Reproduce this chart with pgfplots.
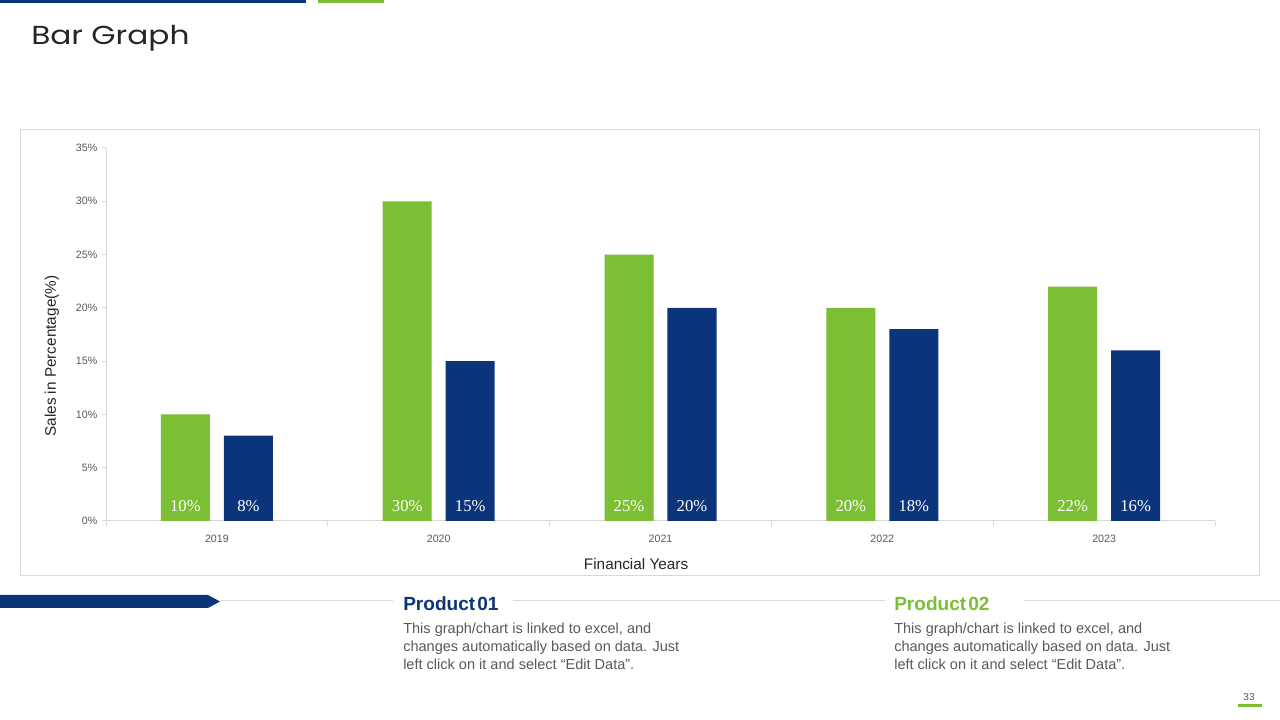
\documentclass[border=0pt]{standalone}
\usepackage{fontspec}
\setmainfont{Liberation Sans}
\newfontfamily\titlefont{Poppins}[FakeStretch=1.2]
\newfontfamily\numfont{Liberation Serif}
\usepackage{pgfplots}
\usepackage{pgfplotstable}
\pgfplotsset{compat=1.18}

\definecolor{navy}{RGB}{11,52,123}
\definecolor{leaf}{RGB}{124,190,52}
\definecolor{rule}{RGB}{217,217,217}
\definecolor{txt}{RGB}{89,89,89}
\definecolor{ink}{RGB}{38,38,38}

% sales share per financial year (p2 = Product 02, p1 = Product 01)
\pgfplotstableread{
x year p2 p1
0 2019 10 8
1 2020 30 15
2 2021 25 20
3 2022 20 18
4 2023 22 16
}\sales

\begin{document}
\begin{tikzpicture}[x=0.75pt,y=0.75pt]
\useasboundingbox (0,0) rectangle (1280,720);
\fill[white] (0,0) rectangle (1280,720);

% header accents and title
\fill[navy] (0,717) rectangle (306,720);
\fill[leaf] (318,717) rectangle (384,720);
\node[anchor=base west, inner sep=0, text=ink,
      font=\titlefont\fontsize{19.5}{22}\selectfont] at (31,675) {Bar Graph};

% chart frame
\draw[rule, line width=0.75pt] (20,144) rectangle (1259,590);

\begin{axis}[
  at={(79.5pt,149.25pt)}, anchor=south west,
  width=831.75pt, height=279.75pt, scale only axis,
  clip=false,
  xmin=-0.5, xmax=4.5, ymin=0, ymax=35,
  axis x line*=bottom, axis y line*=left,
  axis line style={rule, line width=0.75pt, -},
  tick align=outside,
  xtick={0,1,2,3,4},
  xticklabels={2019,2020,2021,2022,2023},
  minor xtick={-0.5,0.5,1.5,2.5,3.5,4.5},
  every major x tick/.append style={draw=none},
  every minor x tick/.append style={rule, line width=0.75pt},
  minor tick length=3.75pt,
  ytick={0,5,...,35},
  every major y tick/.append style={rule, line width=0.75pt},
  major tick length=3pt,
  yticklabel={\pgfmathprintnumber{\tick}\%},
  /pgf/number format/assume math mode=true,
  ticklabel style={font=\fontsize{8}{9.5}\selectfont, text=txt},
  xticklabel style={anchor=base, yshift=-13pt},
  xlabel={Financial Years},
  ylabel={Sales in Percentage(\%)},
  label style={font=\fontsize{11.5}{13}\selectfont, text=ink},
  xlabel style={at={(axis description cs:0.478,-0.115)}, anchor=center},
  ylabel style={at={(axis description cs:-0.0487,0.442)}, anchor=center},
]
\addplot[ybar, bar width=0.221, bar shift=-0.142, fill=leaf, draw=none]
  table[x=x, y=p2] {\sales};
\addplot[ybar, bar width=0.221, bar shift=0.142, fill=navy, draw=none]
  table[x=x, y=p1] {\sales};

% value labels at the foot of each bar
\addplot[draw=none, mark=none, point meta=explicit,
  nodes near coords={\pgfmathprintnumber{\pgfplotspointmeta}\%},
  nodes near coords style={anchor=base, yshift=6.75pt, text=white,
    font=\numfont\fontsize{12.5}{14}\selectfont}]
  table[x expr=\thisrow{x}-0.142, y expr=0, meta=p2] {\sales};
\addplot[draw=none, mark=none, point meta=explicit,
  nodes near coords={\pgfmathprintnumber{\pgfplotspointmeta}\%},
  nodes near coords style={anchor=base, yshift=6.75pt, text=white,
    font=\numfont\fontsize{12.5}{14}\selectfont}]
  table[x expr=\thisrow{x}+0.142, y expr=0, meta=p1] {\sales};
\end{axis}

% footer: arrow, rules and product notes
\fill[navy] (0,125) -- (208,125) -- (220,118.5) -- (208,112) -- (0,112) -- cycle;
\draw[rule, line width=0.75pt] (220,119) -- (393,119);
\draw[rule, line width=0.75pt] (513,119) -- (885,119);
\draw[rule, line width=0.75pt] (1024,119) -- (1280,119);

\node[anchor=base west, inner sep=0, text=navy,
      font=\bfseries\fontsize{14.3}{16}\selectfont] at (403,109) {Product\hspace{1.5pt}01};
\node[anchor=base west, inner sep=0, text=leaf,
      font=\bfseries\fontsize{14.3}{16}\selectfont] at (894,109) {Product\hspace{1.5pt}02};

\foreach \xx in {403,894} {
  \node[anchor=base west, inner sep=0, text=txt, font=\fontsize{10.9}{13}\selectfont]
    at (\xx,86) {This graph/chart is linked to excel, and};
  \node[anchor=base west, inner sep=0, text=txt, font=\fontsize{10.9}{13}\selectfont]
    at (\xx,68) {changes automatically based on data. Just};
  \node[anchor=base west, inner sep=0, text=txt, font=\fontsize{10.9}{13}\selectfont]
    at (\xx,50) {left click on it and select “Edit Data”.};
}

% page number
\node[text=txt, font=\fontsize{7.5}{9}\selectfont] at (1249,23) {33};
\fill[leaf] (1238,13) rectangle (1262,15.5);
\end{tikzpicture}
\end{document}
